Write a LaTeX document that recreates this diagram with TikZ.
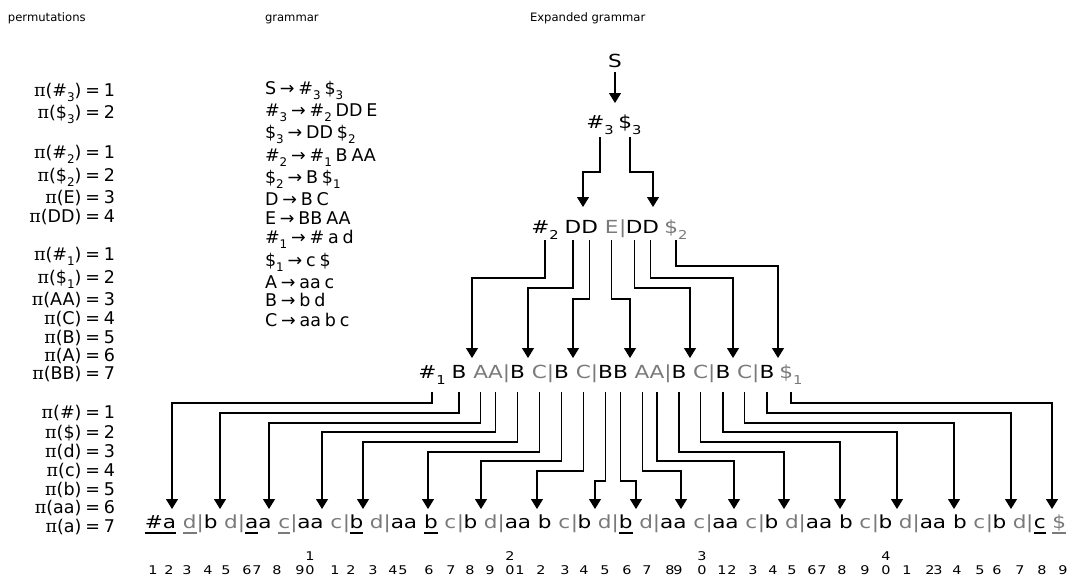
\documentclass[tikz,border=0pt]{standalone}
\usepackage{fontspec}
\setmainfont{DejaVu Sans}
\newfontfamily\piserif{DejaVu Serif}
\newfontfamily\tfam[FakeStretch=1.2]{DejaVu Sans}
\usepackage{graphicx}
\usetikzlibrary{arrows.meta,calc}
\definecolor{tgray}{RGB}{122,122,122}
\newcommand\sbs[1]{\raisebox{-0.34em}{\scalebox{0.68}{#1}}}
\newcommand\PI{{\piserif π}}
\newcommand\nsp{\spaceskip=0.22em\relax}
\newcommand\tfont{\tfam\fontsize{18}{21}\selectfont}
\tikzset{
  hdr/.style={font=\fontsize{11.6}{13}\selectfont, anchor=base west, inner sep=0pt, outer sep=0pt},
  perm/.style={font=\fontsize{17.5}{20}\selectfont\nsp, anchor=base east, inner sep=0pt, outer sep=0pt},
  gram/.style={font=\fontsize{17.5}{20}\selectfont\nsp, anchor=base west, inner sep=0pt, outer sep=0pt},
  sym/.style={font=\tfont, anchor=base, inner sep=0pt, outer sep=0pt, text depth=#1},
  sym/.default=7pt,
  bch/.style={font=\tfont, anchor=base, inner sep=0pt, outer sep=0pt},
  dig/.style={font=\tfam\fontsize{12}{14}\selectfont, anchor=base, inner sep=0pt, outer sep=0pt},
  arr/.style={draw, line width=1.2pt, -{Triangle[width=12pt,length=10pt]}},
  ulk/.style={draw, line width=1.2pt},
}
\begin{document}
\begin{tikzpicture}[x=1pt,y=-1pt]
\useasboundingbox (0,0) rectangle (1070,581);
% headers
\node[hdr] (h1) at (8,21) {permutations};
\node[hdr] (h2) at (265,21) {grammar};
\node[hdr] (h3) at (530,21) {Expanded grammar};
% permutations
\foreach \y/\t [count=\i] in {
  96/{\PI(\#\sbs{3}) = 1}, 118/{\PI(\$\sbs{3}) = 2},
  158/{\PI(\#\sbs{2}) = 1}, 181/{\PI(\$\sbs{2}) = 2}, 203/{\PI(E) = 3}, 222/{\PI(DD) = 4},
  260/{\PI(\#\sbs{1}) = 1}, 283/{\PI(\$\sbs{1}) = 2}, 305/{\PI(AA) = 3}, 324/{\PI(C) = 4},
  343/{\PI(B) = 5}, 361/{\PI(A) = 6}, 379/{\PI(BB) = 7},
  418/{\PI(\#) = 1}, 438/{\PI(\$) = 2}, 457/{\PI(d) = 3}, 476/{\PI(c) = 4},
  495/{\PI(b) = 5}, 513/{\PI(aa) = 6}, 532/{\PI(a) = 7}}
  \node[perm] (p\i) at (115,\y) {\t};
% grammar
\foreach \y/\t [count=\i] in {
  94/{S → \#\sbs{3} \$\sbs{3}},
  116/{\#\sbs{3} → \#\sbs{2} DD E},
  138/{\$\sbs{3} → DD \$\sbs{2}},
  161/{\#\sbs{2} → \#\sbs{1} B AA},
  183/{\$\sbs{2} → B \$\sbs{1}},
  205/{D → B C},
  224/{E → BB AA},
  243/{\#\sbs{1} → \# a d},
  266/{\$\sbs{1} → c \$},
  288/{A → aa c},
  306/{B → b d},
  326/{C → aa b c}}
  \node[gram] (g\i) at (265,\y) {\t};
% tree: S
\node[sym=5pt] (S) at (615,67) {S};
\coordinate (tS) at (615,103);
\draw[arr] (S.south) -- (S.south |- tS);
% row 3
\node[sym=9pt] (t1) at (600,128) {\#\sbs{3}};
\node[sym=9pt] (t2) at (630,128) {\$\sbs{3}};
\coordinate (dt1) at (583,207);
\coordinate (dt2) at (653,207);
\draw[arr] (t1.south) -- (t1.south |- 0,172) -| (dt1);
\draw[arr] (t2.south) -- (t2.south |- 0,172) -| (dt2);
% row 2
\foreach \x/\t/\cl [count=\i] in {545/{\#\sbs{2}}/black, 573/D/black, 589.6/D/black, 611.6/E/tgray,
    634.1/D/black, 650.7/D/black, 676/{\$\sbs{2}}/tgray}
  \node[sym=7pt, text=\cl] (d\i) at (\x,233) {\t};
\node[sym=7pt, text=tgray] (dbar) at ($(d4.base)!0.5!(d5.base)$) {|};
\foreach \i/\L/\tx in {1/278/472, 2/288/528, 3/299/573, 4/299/630, 5/288/690, 6/278/733, 7/266/778} {
  \coordinate (mt\i) at (\tx,358);
  \draw[arr] (d\i.south) -- (d\i.south |- 0,\L) -| (mt\i);
}
% row 1
\foreach \x/\t/\cl [count=\i] in {432/{\#\sbs{1}}/black, 459/B/black, 480.7/A/tgray, 495.5/A/tgray,
    517.6/B/black, 539.4/C/tgray, 561.6/B/black, 583.4/C/tgray, 605.6/B/black, 620.4/B/black,
    642.1/A/tgray, 656.9/A/tgray, 678.9/B/black, 700.7/C/tgray, 722.9/B/black, 744.7/C/tgray,
    766.9/B/black, 791/{\$\sbs{1}}/tgray}
  \node[sym=14pt, text=\cl] (m\i) at (\x,378) {\t};
\foreach \a/\b in {4/5, 6/7, 8/9, 12/13, 14/15, 16/17}
  \node[sym=7pt, text=tgray] (mbar\a) at ($(m\a.base)!0.5!(m\b.base)$) {|};
\foreach \i/\L/\tx in {1/403/172, 2/413/220, 3/423/269, 4/432/322, 5/442/363, 6/452/428,
    7/461/481, 8/471/537, 9/481/595, 10/481/636, 11/471/681, 12/461/734, 13/452/784,
    14/442/840, 15/432/897, 16/423/954, 17/413/1011, 18/403/1052} {
  \coordinate (bt\i) at (\tx,509);
  \draw[arr] (m\i.south) -- (m\i.south |- 0,\L) -| (bt\i);
}
% bottom row
\foreach \x/\ch/\cl [count=\i] in {
  154/\#/black, 169.6/a/black, 189.8/d/tgray, 210.7/b/black, 231.1/d/tgray,
  251.8/a/black, 264.9/a/black, 284.2/c/tgray, 304/a/black, 317.1/a/black,
  336.4/c/tgray, 356.4/b/black, 376.8/d/tgray, 397.5/a/black, 410.6/a/black,
  430.9/b/black, 450.4/c/tgray, 470.4/b/black, 490.8/d/tgray, 511.5/a/black,
  524.6/a/black, 544.8/b/black, 564.4/c/tgray, 584.4/b/black, 604.8/d/tgray,
  625.7/b/black, 646.1/d/tgray, 666.8/a/black, 679.9/a/black, 699.3/c/tgray,
  719/a/black, 732.1/a/black, 751.4/c/tgray, 771.4/b/black, 791.9/d/tgray,
  812.5/a/black, 825.7/a/black, 845.9/b/black, 865.4/c/tgray, 885.4/b/black,
  905.8/d/tgray, 926.5/a/black, 939.6/a/black, 959.9/b/black, 979.4/c/tgray,
  999.4/b/black, 1019.8/d/tgray, 1039.8/c/black, 1059.3/\$/tgray}
  \node[bch, text=\cl] (c\i) at (\x,528) {\ch};
\foreach \a/\b in {3/4, 5/6, 8/9, 11/12, 13/14, 17/18, 19/20, 23/24, 25/26, 27/28,
    30/31, 33/34, 35/36, 39/40, 41/42, 45/46, 47/48}
  \node[bch, text=tgray] (bbar\a) at ($(c\a.base)!0.5!(c\b.base)$) {|};
% position numbers
\foreach \x [count=\i] in {153,169,187,208,226,247,257,277,300,310,335,351,373,393,403,
    429,451,470,490,510,520,541,565,584,605,627,647,670,678,702,722,732,753,773,792,
    812,822,842,865,886,907,930,938,957,980,997,1020,1042,1063} {
  \pgfmathtruncatemacro\u{mod(\i,10)}
  \node[dig] (n\i) at (\x,574) {\u};
}
\node[dig] (tn1) at (310,560) {1};
\node[dig] (tn2) at (510,560) {2};
\node[dig] (tn3) at (702,560) {3};
\node[dig] (tn4) at (886,560) {4};
% underlines
\draw[ulk] ([yshift=-5pt]c1.base west) -- ([yshift=-5pt]c2.base east);
\foreach \i in {6,12,16,26,48}
  \draw[ulk] ([yshift=-5pt]c\i.base west) -- ([yshift=-5pt]c\i.base east);
\foreach \i in {3,8,49}
  \draw[ulk, tgray] ([yshift=-5pt]c\i.base west) -- ([yshift=-5pt]c\i.base east);
\end{tikzpicture}
\end{document}
